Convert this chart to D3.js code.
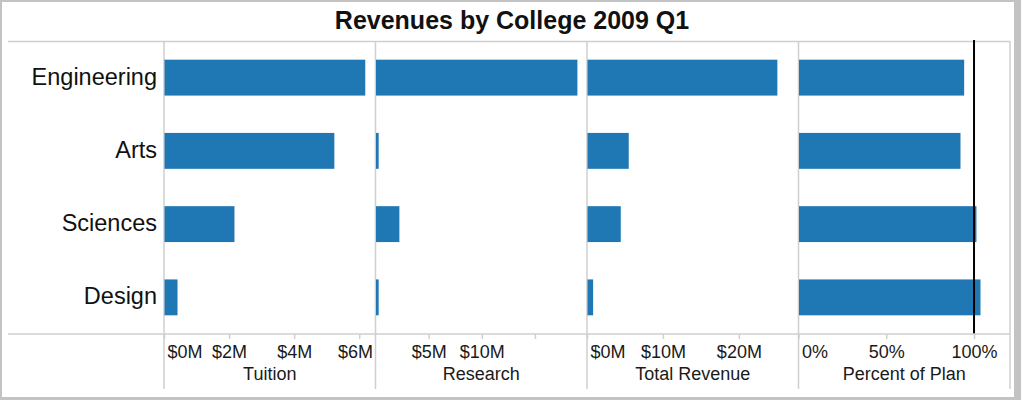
<!DOCTYPE html>
<html>
<head>
<meta charset="utf-8">
<script src="https://cdn.jsdelivr.net/npm/d3@7/dist/d3.min.js"></script>
<style>
  html, body { margin: 0; padding: 0; background: #fff; }
  svg { display: block; font-family: Arial, "Liberation Sans", sans-serif; }
</style>
</head>
<body>
<svg id="chart" width="1021" height="400"></svg>
<script>
// ---- data ----
const title = "Revenues by College 2009 Q1";
const categories = ["Engineering", "Arts", "Sciences", "Design"];
const tuition = [6.17, 5.22, 2.15, 0.40];        // $M
const research = [18.95, 0.25, 2.2, 0.25];       // $M
const totalRevenue = [25.0, 5.43, 4.38, 0.74];   // $M
const percentOfPlan = [0.941, 0.92, 1.011, 1.034];
const planTarget = 1.0;

const tuitionTicks = [0, 2, 4, 6];
const tuitionTickLabels = ["$0M", "$2M", "$4M", "$6M"];
const researchTicks = [5, 10, 15];
const researchTickLabels = ["$5M", "$10M", ""];
const totalTicks = [0, 10, 20];
const totalTickLabels = ["$0M", "$10M", "$20M"];
const percentTicks = [0, 0.5, 1];
const percentTickLabels = ["0%", "50%", "100%"];

const panels = [
  { name: "Tuition", values: tuition, max: 6.5, ticks: tuitionTicks, labels: tuitionTickLabels },
  { name: "Research", values: research, max: 19.9, ticks: researchTicks, labels: researchTickLabels },
  { name: "Total Revenue", values: totalRevenue, max: 27.85, ticks: totalTicks, labels: totalTickLabels },
  { name: "Percent of Plan", values: percentOfPlan, max: 1.205, ticks: percentTicks, labels: percentTickLabels }
];

// ---- layout ----
const W = 1021, H = 400;
const plotLeft = 164, plotRight = 1010;
const plotTop = 41, plotBottom = 334;
const frameLeft = 8;
const gridBottom = 389;
const lineColor = "#cfcfcf";
const barColor = "#1f77b4";
const panelW = (plotRight - plotLeft) / panels.length;

const svg = d3.select("#chart");

// outer frame
svg.append("rect").attr("x", 0).attr("y", 0).attr("width", W).attr("height", H).attr("fill", "#c3c3c3");
svg.append("rect").attr("x", 2).attr("y", 2).attr("width", 1014 - 2).attr("height", 397 - 2).attr("fill", "#fff");

// title
svg.append("text")
  .attr("x", 512).attr("y", 29)
  .attr("text-anchor", "middle")
  .attr("font-size", 25).attr("font-weight", "bold")
  .attr("fill", "#111")
  .text(title);

const y = d3.scaleBand().domain(categories).range([plotTop, plotBottom])
  .paddingInner(0.51).paddingOuter(0.255);

// horizontal lines
svg.append("line").attr("x1", frameLeft).attr("x2", plotRight).attr("y1", plotTop + 0.5).attr("y2", plotTop + 0.5)
  .attr("stroke", lineColor).attr("stroke-width", 1.5);

// category labels
svg.append("g").selectAll("text").data(categories).join("text")
  .attr("x", 157)
  .attr("y", d => y(d) + y.bandwidth() / 2 + 7)
  .attr("text-anchor", "end")
  .attr("font-size", 23.5)
  .attr("fill", "#111")
  .text(d => d);

panels.forEach((p, i) => {
  const x0 = plotLeft + i * panelW, x1 = x0 + panelW;
  const x = d3.scaleLinear().domain([0, p.max]).range([x0, x1]);
  const g = svg.append("g");

  // divider
  g.append("line").attr("x1", x0).attr("x2", x0).attr("y1", plotTop).attr("y2", gridBottom)
    .attr("stroke", lineColor).attr("stroke-width", 1.5);

  // bars
  g.selectAll("rect.bar").data(p.values).join("rect")
    .attr("class", "bar")
    .attr("x", x(0) + 0.5)
    .attr("y", (d, j) => y(categories[j]))
    .attr("width", d => Math.max(0, x(d) - x(0)))
    .attr("height", y.bandwidth())
    .attr("fill", barColor);

  // axis
  const axis = d3.axisBottom(x).tickValues(p.ticks).tickSize(5)
    .tickFormat((d, k) => p.labels[k]);
  const ag = g.append("g").attr("transform", `translate(0,${plotBottom})`).call(axis);
  ag.select(".domain").remove();
  ag.selectAll(".tick line").attr("stroke", lineColor).attr("stroke-width", 1.5);
  ag.selectAll(".tick text")
    .attr("font-size", 18).attr("font-family", "Arial, 'Liberation Sans', sans-serif")
    .attr("fill", "#1a1a1a").attr("y", 24).attr("dy", 0)
    .each(function(d) {
      const w = this.getComputedTextLength();
      const cx = x(d);
      const lo = x0 + w / 2 + 3, hi = x1 - w / 2 - 3;
      const c = Math.min(Math.max(cx, lo), hi);
      d3.select(this).attr("x", c - cx);
    });

  // axis title
  g.append("text").attr("x", (x0 + x1) / 2).attr("y", 380)
    .attr("text-anchor", "middle").attr("font-size", 18).attr("fill", "#1a1a1a")
    .text(p.name);

  if (p.name === "Percent of Plan") {
    g.append("line").attr("x1", x(planTarget)).attr("x2", x(planTarget))
      .attr("y1", plotTop - 1).attr("y2", plotBottom)
      .attr("stroke", "#000").attr("stroke-width", 2);
  }
});

// right border
svg.append("line").attr("x1", plotRight).attr("x2", plotRight).attr("y1", plotTop).attr("y2", gridBottom)
  .attr("stroke", lineColor).attr("stroke-width", 1.5);
// bottom axis line
svg.append("line").attr("x1", frameLeft).attr("x2", plotRight).attr("y1", plotBottom).attr("y2", plotBottom)
  .attr("stroke", lineColor).attr("stroke-width", 1.5);
</script>
</body>
</html>
